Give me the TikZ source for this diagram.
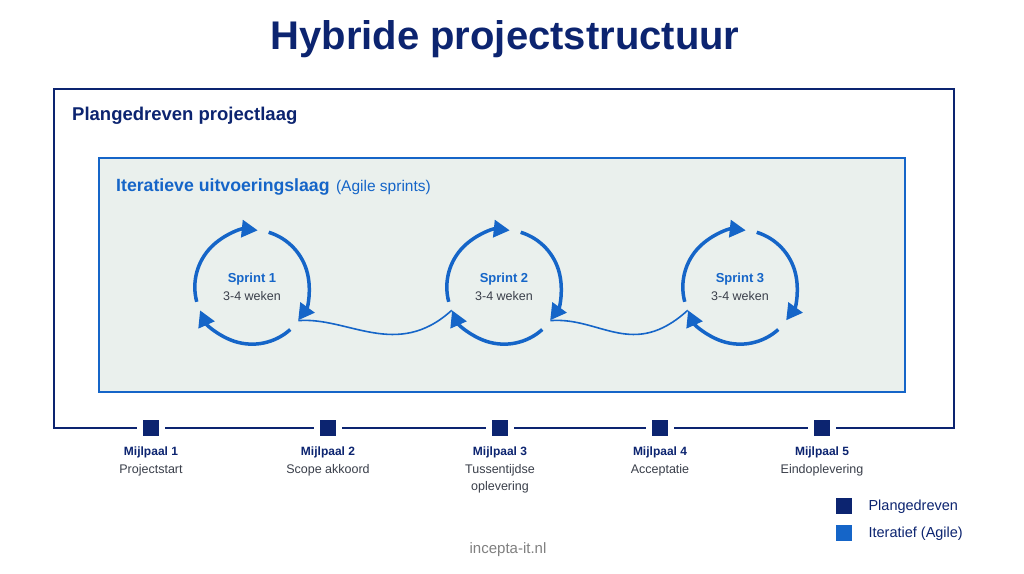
\documentclass[tikz,border=0pt]{standalone}
\usepackage{fontspec}
\setmainfont{Liberation Sans}
\usetikzlibrary{arrows.meta}

\definecolor{navy}{HTML}{0C2470}
\definecolor{agileblue}{HTML}{1565C8}
\definecolor{layerfill}{HTML}{EAF0ED}
\definecolor{softtext}{HTML}{3A3F4A}

\tikzset{
  sprintarc/.style={agileblue, line width=3.5pt, -{Triangle[length=16pt,width=17pt]}},
  sprintlink/.style={agileblue, line width=1.6pt},
  sprint/.style={circle, minimum size=114pt, inner sep=0pt, align=center, text=softtext,
    font=\fontsize{12.5}{18}\selectfont},
  milestone/.style={rectangle, fill=navy, draw=white, line width=6pt, minimum size=22pt, inner sep=0pt},
  mstitle/.style={navy, font=\fontsize{12}{15}\selectfont\bfseries},
  mstext/.style={softtext, align=center, font=\fontsize{12.5}{17}\selectfont},
  legendbox/.style={rectangle, minimum size=16pt, inner sep=0pt}
}

\begin{document}
\begin{tikzpicture}[x=1pt, y=1pt]
    \useasboundingbox[fill=white] (0,0) rectangle (1024,-573);
    % Title
    \node[navy, font=\fontsize{40}{46}\selectfont\bfseries] (title) at (505,-39) {Hybride projectstructuur};
    % Plan-driven layer
    \draw[navy, line width=2pt] (54,-428) rectangle (954,-89);
    \node[anchor=west, inner sep=0pt, navy, font=\fontsize{18.5}{22}\selectfont\bfseries] (planlbl) at (72,-116) {Plangedreven projectlaag};
    % Iterative layer
    \draw[agileblue, fill=layerfill, line width=1.5pt] (99,-158) rectangle (905,-392);
    \node[anchor=base west, inner sep=0pt, agileblue, font=\fontsize{17.7}{21}\selectfont\bfseries] (iterlbl) at (116,-191) {Iteratieve uitvoeringslaag};
    \node[anchor=base west, inner sep=0pt, agileblue, font=\fontsize{15.5}{18}\selectfont] (agilelbl) at ([xshift=6pt]iterlbl.base east) {(Agile sprints)};
    % Sprints
    \node[sprint] (sp1) at (252,-287) {\textcolor{agileblue}{\fontsize{13}{18}\selectfont\bfseries Sprint 1}\\3-4 weken};
    \node[sprint] (sp2) at (504,-287) {\textcolor{agileblue}{\fontsize{13}{18}\selectfont\bfseries Sprint 2}\\3-4 weken};
    \node[sprint] (sp3) at (740,-287) {\textcolor{agileblue}{\fontsize{13}{18}\selectfont\bfseries Sprint 3}\\3-4 weken};
    \foreach \s in {sp1,sp2,sp3} {
      \draw[sprintarc] (\s.195) arc[start angle=195, end angle=84, radius=57pt];
      \draw[sprintarc] (\s.73) arc[start angle=73, end angle=-36, radius=57pt];
      \draw[sprintarc] (\s.-48) arc[start angle=-48, end angle=-156, radius=57pt];
    }
    % Links between sprints
    \draw[sprintlink] (sp1.-36) .. controls +(50,4) and +(-55,-50) .. (sp2.204);
    \draw[sprintlink] (sp2.-36) .. controls +(50,4) and +(-55,-50) .. (sp3.204);
    % Milestones
    \node[milestone] (m1) at (151,-428) {};
    \node[milestone] (m2) at (328,-428) {};
    \node[milestone] (m3) at (500,-428) {};
    \node[milestone] (m4) at (660,-428) {};
    \node[milestone] (m5) at (822,-428) {};
    \node[mstitle] (m1t) at (151,-452) {Mijlpaal 1};
    \node[mstitle] (m2t) at (328,-452) {Mijlpaal 2};
    \node[mstitle] (m3t) at (500,-452) {Mijlpaal 3};
    \node[mstitle] (m4t) at (660,-452) {Mijlpaal 4};
    \node[mstitle] (m5t) at (822,-452) {Mijlpaal 5};
    \node[mstext, anchor=north] (m1d) at (151,-461) {Projectstart};
    \node[mstext, anchor=north] (m2d) at (328,-461) {Scope akkoord};
    \node[mstext, anchor=north] (m3d) at (500,-461) {Tussentijdse\\oplevering};
    \node[mstext, anchor=north] (m4d) at (660,-461) {Acceptatie};
    \node[mstext, anchor=north] (m5d) at (822,-461) {Eindoplevering};
    % Legend
    \node[legendbox, fill=navy] (lg1) at (844,-506) {};
    \node[legendbox, fill=agileblue] (lg2) at (844,-533) {};
    \node[anchor=west, navy, font=\fontsize{14.5}{17}\selectfont] (lg1t) at (865,-507) {Plangedreven};
    \node[anchor=west, navy, font=\fontsize{14.5}{17}\selectfont] (lg2t) at (865,-534) {Iteratief (Agile)};
    % Footer
    \node[gray, font=\fontsize{15}{18}\selectfont] (footer) at (508,-550) {incepta-it.nl};
\end{tikzpicture}
\end{document}
